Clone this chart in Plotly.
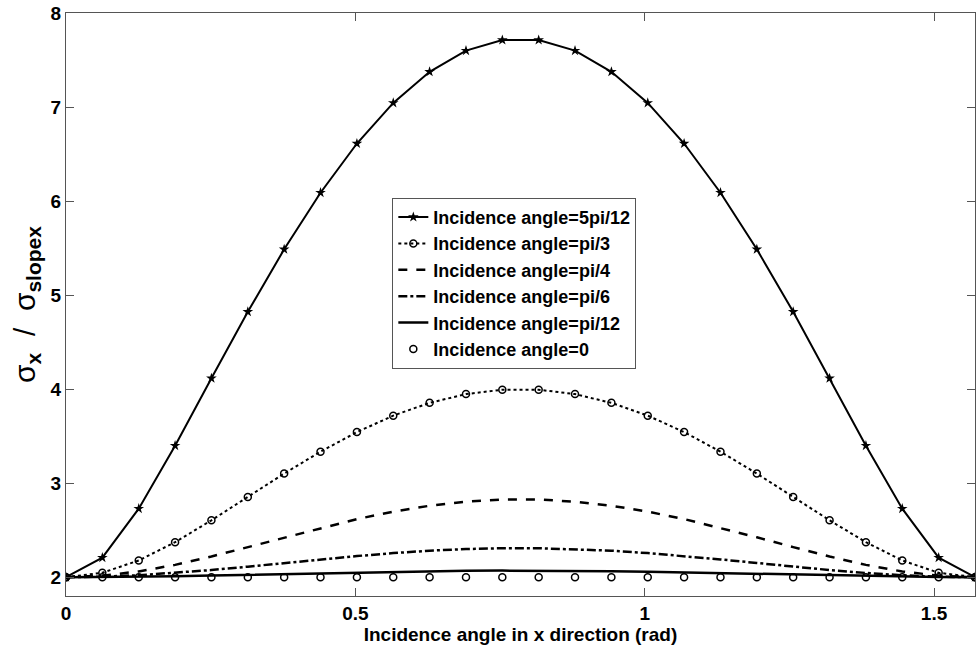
import plotly.graph_objects as go

x_rad = [0.0000, 0.0628, 0.1257, 0.1885, 0.2513, 0.3142, 0.3770, 0.4398, 0.5027,
         0.5655, 0.6283, 0.6912, 0.7540, 0.8168, 0.8796, 0.9425, 1.0053, 1.0681,
         1.1310, 1.1938, 1.2566, 1.3195, 1.3823, 1.4451, 1.5080, 1.5708]

y_5pi12 = [2.000, 2.208, 2.729, 3.399, 4.115, 4.822, 5.487, 6.089, 6.612, 7.044, 7.375, 7.600, 7.713,
           7.713, 7.600, 7.375, 7.044, 6.612, 6.089, 5.487, 4.822, 4.115, 3.399, 2.729, 2.208, 2.000]
y_pi3 = [2.000, 2.047, 2.178, 2.372, 2.605, 2.854, 3.102, 3.335, 3.543, 3.718, 3.854, 3.947, 3.994,
         3.994, 3.947, 3.854, 3.718, 3.543, 3.335, 3.102, 2.854, 2.605, 2.372, 2.178, 2.047, 2.000]
y_pi4 = [2.000, 2.016, 2.061, 2.131, 2.220, 2.320, 2.424, 2.525, 2.618, 2.697, 2.760, 2.803, 2.826,
         2.826, 2.803, 2.760, 2.697, 2.618, 2.525, 2.424, 2.320, 2.220, 2.131, 2.061, 2.016, 2.000]
y_pi6 = [2.000, 2.005, 2.021, 2.045, 2.076, 2.112, 2.151, 2.189, 2.225, 2.256, 2.282, 2.299, 2.308,
         2.308, 2.299, 2.282, 2.256, 2.225, 2.189, 2.151, 2.112, 2.076, 2.045, 2.021, 2.005, 2.000]
y_pi12 = [2.000, 2.001, 2.004, 2.010, 2.017, 2.025, 2.033, 2.042, 2.051, 2.058, 2.064, 2.068, 2.070,
          2.070, 2.068, 2.064, 2.058, 2.051, 2.042, 2.033, 2.025, 2.017, 2.010, 2.004, 2.001, 2.000]
y_0 = [2.0, 2.0, 2.0, 2.0, 2.0, 2.0, 2.0, 2.0, 2.0, 2.0, 2.0, 2.0, 2.0,
       2.0, 2.0, 2.0, 2.0, 2.0, 2.0, 2.0, 2.0, 2.0, 2.0, 2.0, 2.0, 2.0]

names = ["Incidence angle=5pi/12", "Incidence angle=pi/3", "Incidence angle=pi/4",
         "Incidence angle=pi/6", "Incidence angle=pi/12", "Incidence angle=0"]

FONT = "Liberation Sans"
fig = go.Figure()

fig.add_trace(go.Scatter(x=x_rad, y=y_5pi12, name=names[0], mode="lines+markers",
                         line=dict(color="black", width=2),
                         marker=dict(symbol="star", size=8, color="black")))
fig.add_trace(go.Scatter(x=x_rad, y=y_pi3, name=names[1], mode="lines+markers",
                         line=dict(color="black", width=2, dash="dot"),
                         marker=dict(symbol="circle-open", size=7, color="black", line=dict(width=1.5))))
fig.add_trace(go.Scatter(x=x_rad, y=y_pi4, name=names[2], mode="lines",
                         line=dict(color="black", width=2.5, dash="dash")))
fig.add_trace(go.Scatter(x=x_rad, y=y_pi6, name=names[3], mode="lines",
                         line=dict(color="black", width=2.5, dash="dashdot")))
fig.add_trace(go.Scatter(x=x_rad, y=y_pi12, name=names[4], mode="lines",
                         line=dict(color="black", width=2.5)))
fig.add_trace(go.Scatter(x=x_rad, y=y_0, name=names[5], mode="markers",
                         marker=dict(symbol="circle-open", size=7, color="black", line=dict(width=1.5))))

axis_common = dict(showgrid=False, zeroline=False, showline=True, linecolor="#555", linewidth=1,
                   mirror="ticks", ticks="inside", ticklen=8, tickcolor="#555", automargin=False,
                   tickfont=dict(family=FONT, size=19, color="black", weight="bold"))

fig.update_xaxes(range=[0, 1.5708], tickvals=[0, 0.5, 1, 1.5], ticktext=["0", "0.5", "1", "1.5"],
                 title=dict(text="Incidence angle in x direction (rad)", standoff=2,
                            font=dict(family=FONT, size=19, color="black", weight="bold")),
                 **axis_common)
fig.update_yaxes(range=[1.8, 8], tickvals=[2, 3, 4, 5, 6, 7, 8],
                 title=dict(text="σ<sub><b>x</b></sub>  /  σ<sub><b>slopex</b></sub>", standoff=6,
                            font=dict(family=FONT, size=30, color="black")),
                 **axis_common)

fig.update_layout(
    width=977, height=649,
    margin=dict(l=66, r=2, t=13, b=53, autoexpand=False),
    plot_bgcolor="white", paper_bgcolor="white",
    showlegend=True,
    legend=dict(x=0.359, y=0.683, xanchor="left", yanchor="top",
                bgcolor="white", bordercolor="#555", borderwidth=1,
                itemwidth=30, tracegroupgap=0,
                font=dict(family=FONT, size=18, color="black", weight="bold")),
)

fig.write_html("out.html", config={"displayModeBar": False},
               post_script="document.body.style.margin='0px';")
